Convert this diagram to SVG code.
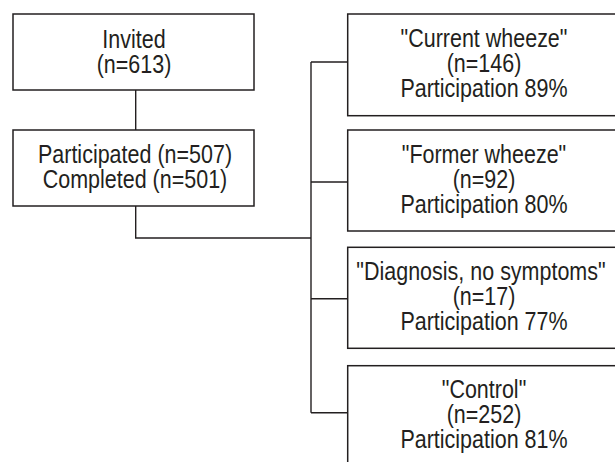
<svg xmlns="http://www.w3.org/2000/svg" width="615" height="462" viewBox="0 0 615 462">
<style>
.box{fill:#fff;stroke:#231f20;stroke-width:1.5}
.ln{fill:none;stroke:#231f20;stroke-width:1.4}
.t{font-family:"Liberation Sans",Arial,sans-serif;font-size:25px;fill:#231f20;text-anchor:middle}
</style>
<rect width="615" height="462" fill="#fff"/>
<g id="connectors">
<path class="ln" d="M135.7,90 V130"/>
<path class="ln" d="M135.7,206 V238 H311"/>
<path class="ln" d="M311,62 V412.7"/>
<path class="ln" d="M311,62 H347.7 M311,182 H347.7 M311,298.7 H347.7 M311,412.7 H347.7"/>
</g>
<g id="invited">
<rect class="box" x="13" y="14" width="241" height="76"/>
<text class="t" transform="translate(134,47.5) scale(0.86,1)">Invited</text>
<text class="t" transform="translate(134,72.5) scale(0.86,1)">(n=613)</text>
</g>
<g id="participated">
<rect class="box" x="13" y="130" width="241" height="76"/>
<text class="t" transform="translate(135,162.5) scale(0.86,1)">Participated (n=507)</text>
<text class="t" transform="translate(135,187.5) scale(0.86,1)">Completed (n=501)</text>
</g>
<g id="current">
<rect class="box" x="347.7" y="14" width="280" height="101.7"/>
<text class="t" transform="translate(484,46.7) scale(0.86,1)">"Current wheeze"</text>
<text class="t" transform="translate(484,71.7) scale(0.86,1)">(n=146)</text>
<text class="t" transform="translate(484,96.7) scale(0.86,1)">Participation 89%</text>
</g>
<g id="former">
<rect class="box" x="347.7" y="130" width="280" height="101"/>
<text class="t" transform="translate(484,162.7) scale(0.86,1)">"Former wheeze"</text>
<text class="t" transform="translate(484,187.7) scale(0.86,1)">(n=92)</text>
<text class="t" transform="translate(484,212.7) scale(0.86,1)">Participation 80%</text>
</g>
<g id="diagnosis">
<rect class="box" x="347.7" y="247.3" width="280" height="101"/>
<text class="t" transform="translate(481,280) scale(0.86,1)">"Diagnosis, no symptoms"</text>
<text class="t" transform="translate(484,305) scale(0.86,1)">(n=17)</text>
<text class="t" transform="translate(484,330) scale(0.86,1)">Participation 77%</text>
</g>
<g id="control">
<rect class="box" x="347.7" y="365.7" width="280" height="120"/>
<text class="t" transform="translate(484,398.4) scale(0.86,1)">"Control"</text>
<text class="t" transform="translate(484,423.4) scale(0.86,1)">(n=252)</text>
<text class="t" transform="translate(484,448.4) scale(0.86,1)">Participation 81%</text>
</g>
</svg>
